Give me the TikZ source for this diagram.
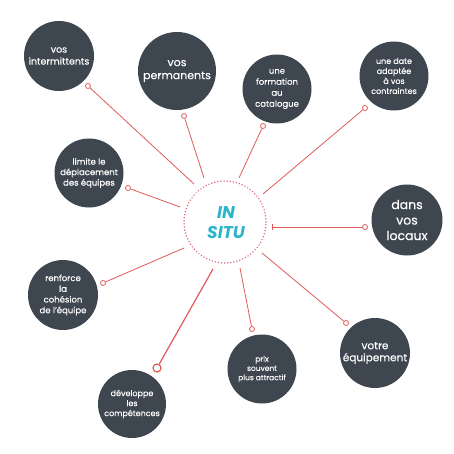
\documentclass[tikz,border=0pt]{standalone}
\usepackage{fontspec}
\setmainfont{Poppins}[UprightFeatures={FakeBold=0.35}]
\definecolor{bub}{HTML}{3E4650}
\definecolor{lnk}{HTML}{E05A5A}
\definecolor{dotc}{HTML}{E0607A}
\definecolor{teal}{HTML}{2BB5C8}
\begin{document}
\begin{tikzpicture}[x=1pt,y=-1pt,
  bubble/.style={circle,fill=bub,text=white,inner sep=0pt,align=center},
  ring/.style={circle,draw=lnk,fill=white,line width=0.8pt,minimum size=5pt,inner sep=0pt},
  bigring/.style={circle,draw=lnk,fill=white,line width=1.2pt,minimum size=8pt,inner sep=0pt},
  link/.style={draw=lnk,line width=0.8pt},
  biglink/.style={draw=lnk,line width=1.2pt}]
\useasboundingbox (0,0) rectangle (454,454);
% center
\node[circle,minimum size=82pt,inner sep=0pt,draw=dotc,line width=1.6pt,dash pattern=on 0.01pt off 3.1pt,line cap=round] (c) at (225,222) {};
\node[text=teal,font=\bfseries\itshape\fontsize{17}{20}\selectfont,align=center] (t) at (226,223) {IN\\SITU};
% bubbles
\node[bubble,minimum size=70pt,font=\fontsize{9.5}{12}\selectfont] (b1) at (59,56) {vos\\intermittents};
\node[bubble,minimum size=78pt,font=\fontsize{11}{13}\selectfont] (b2) at (177,71) {vos\\permanents};
\node[bubble,minimum size=69pt,font=\fontsize{8.5}{11}\selectfont] (b3) at (277,89) {une\\formation\\au\\catalogue};
\node[bubble,minimum size=69pt,font=\fontsize{8}{10}\selectfont] (b4) at (394,76) {une date\\adaptée\\à vos\\contraintes};
\node[bubble,minimum size=71pt,font=\fontsize{12.5}{15.5}\selectfont] (b5) at (407,220) {dans\\vos\\locaux};
\node[bubble,minimum size=70pt,font=\fontsize{10.5}{12}\selectfont] (b6) at (375,353) {votre\\équipement};
\node[bubble,minimum size=69pt,font=\fontsize{7.5}{9.3}\selectfont] (b7) at (262,369) {prix\\souvent\\plus attractif};
\node[bubble,minimum size=68pt,font=\fontsize{8}{10}\selectfont] (b8) at (132,404) {développe\\les\\compétences};
\node[bubble,minimum size=70pt,font=\fontsize{8.5}{10.7}\selectfont] (b9) at (63,295) {renforce\\la\\cohésion\\de l’équipe};
\node[bubble,minimum size=69pt,font=\fontsize{8.5}{10.5}\selectfont] (b10) at (89,173) {limite le\\déplacement\\des équipes};
% connector ends
\coordinate (s1) at (194,184);
\coordinate (s2) at (204,178);
\coordinate (s3) at (239,178);
\coordinate (s4) at (263,194);
\coordinate (s5) at (272,227);
\coordinate (s6) at (262,253);
\coordinate (s7) at (240,268);
\coordinate (s8) at (213,269);
\coordinate (s9) at (184,248);
\coordinate (s10) at (180,207);
\node[ring] (r1) at (88,86) {};
\node[ring] (r2) at (184,116) {};
\node[ring] (r3) at (263,126) {};
\node[ring] (r4) at (365,108) {};
\node[ring] (r5) at (365,227) {};
\node[ring] (r6) at (346,323) {};
\node[ring] (r7) at (252,329) {};
\node[bigring] (r8) at (157,368) {};
\node[ring] (r9) at (103,283) {};
\node[ring] (r10) at (128,188) {};
\draw[link] (s1) -- (r1);
\draw[link] (s2) -- (r2);
\draw[link] (s3) -- (r3);
\draw[link] (s4) -- (r4);
\draw[link] (s5) -- (r5);
\draw[link] ([yshift=-3pt]s5) -- ([yshift=3pt]s5);
\draw[link] (s6) -- (r6);
\draw[link] (s7) -- (r7);
\draw[biglink] (s8) -- (r8);
\draw[link] (s9) -- (r9);
\draw[link] (s10) -- (r10);
\end{tikzpicture}
\end{document}
